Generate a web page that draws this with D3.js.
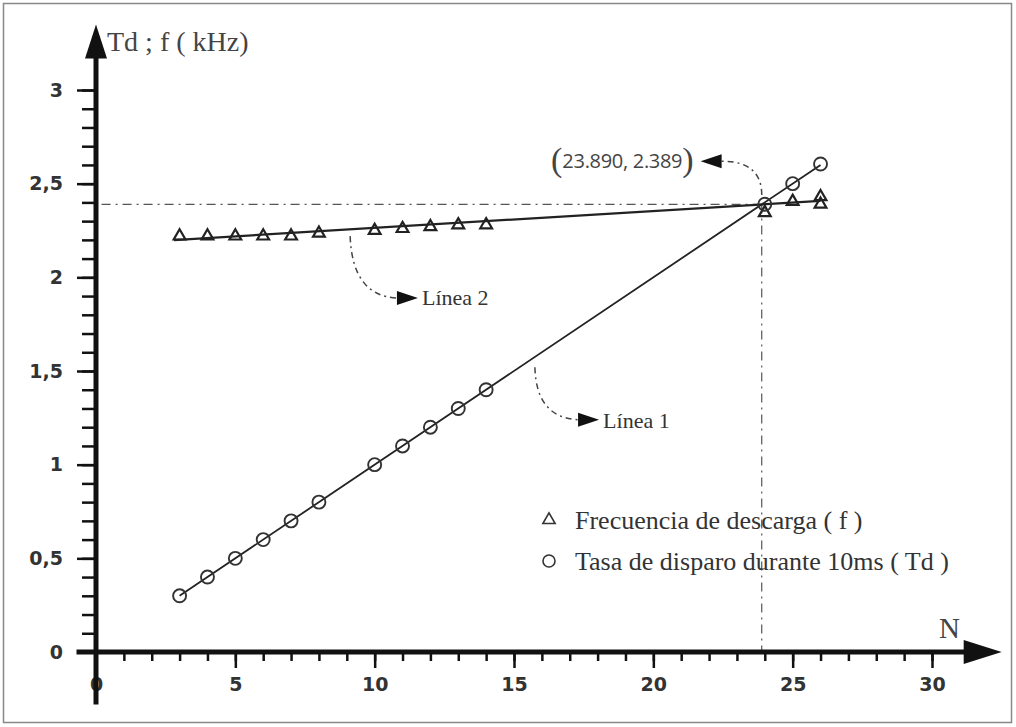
<!DOCTYPE html>
<html><head><meta charset="utf-8">
<script src="https://cdn.jsdelivr.net/npm/d3@7"></script>
<style>body{margin:0;background:#fff}svg{display:block}</style>
</head><body>
<svg id="c" width="1016" height="727"></svg>
<script>
// ---- data ----
const triN   = [3,4,5,6,7,8,10,11,12,13,14,24,25,26,26];
const triVal = [2.22,2.22,2.22,2.22,2.22,2.235,2.25,2.26,2.27,2.28,2.28,2.345,2.405,2.43,2.39];
const circN   = [3,4,5,6,7,8,10,11,12,13,14,24,25,26];
const circVal = [0.3,0.4,0.5,0.6,0.7,0.8,1.0,1.1,1.2,1.3,1.4,2.39,2.5,2.605];
const line1N = [3,26], line1Val = [0.3,2.6];
const line2N = [2.8,26], line2Val = [2.199,2.408];
const crossN = 23.89, crossVal = 2.389;
const xTicks = [0,5,10,15,20,25,30];
const xTickLabels = ["0","5","10","15","20","25","30"];
const yTicks = [0,0.5,1,1.5,2,2.5,3];
const yTickLabels = ["0","0,5","1","1,5","2","2,5","3"];
const xMinor = d3.range(0,31,1);
const yMinor = d3.range(0,31,1).map(d=>d/10);
const legendLabels = ["Frecuencia de descarga ( f )","Tasa de disparo durante 10ms ( Td )"];
const crossLabel = "23.890, 2.389";
const line1Label = "Línea 1", line2Label = "Línea 2";

// ---- scales ----
const x = d3.scaleLinear().domain([0,30]).range([96,932]);
const y = d3.scaleLinear().domain([0,3]).range([652,90]);
const svg = d3.select("#c");
const ink = "#111", grey="#444";
const serif = "'Liberation Serif',serif";

// frame
svg.append("rect").attr("x",3.5).attr("y",3.5).attr("width",1008).attr("height",719)
  .attr("fill","none").attr("stroke","#888").attr("stroke-width",1.5);

// reference dash-dot lines
const dd = "9,5,2,5";
svg.append("line").attr("x1",x(0.2)).attr("x2",x(crossN)).attr("y1",y(crossVal)).attr("y2",y(crossVal))
  .attr("stroke","#555").attr("stroke-width",1.2).attr("stroke-dasharray",dd);
svg.append("line").attr("x1",x(crossN)).attr("x2",x(crossN)).attr("y1",y(crossVal)).attr("y2",y(0))
  .attr("stroke","#555").attr("stroke-width",1.2).attr("stroke-dasharray",dd);

// axes: minor + major ticks via d3 axes
const gy = svg.append("g").attr("transform",`translate(${x(0)},0)`);
gy.call(d3.axisLeft(y).tickValues(yMinor).tickSize(14).tickFormat(""))
  .call(g=>{g.select(".domain").remove();g.selectAll("line").attr("stroke",ink).attr("stroke-width",2.5);});
const gy2 = svg.append("g").attr("transform",`translate(${x(0)},0)`);
gy2.call(d3.axisLeft(y).tickValues(yTicks).tickSize(19).tickPadding(14).tickFormat((d,i)=>yTickLabels[i]))
  .call(g=>{g.select(".domain").remove();g.selectAll("line").attr("stroke",ink).attr("stroke-width",2.5);
    g.selectAll("text").attr("fill","#333").attr("font-family","'DejaVu Sans',sans-serif")
     .attr("font-weight","bold").attr("font-size",19);});

const gx = svg.append("g").attr("transform",`translate(0,${y(0)})`);
gx.call(d3.axisBottom(x).tickValues(xMinor).tickSize(9).tickFormat(""))
  .call(g=>{g.select(".domain").remove();g.selectAll("line").attr("stroke",ink).attr("stroke-width",2.5);});
const gx2 = svg.append("g").attr("transform",`translate(0,${y(0)})`);
gx2.call(d3.axisBottom(x).tickValues(xTicks).tickSize(16).tickPadding(10).tickFormat((d,i)=>xTickLabels[i]))
  .call(g=>{g.select(".domain").remove();g.selectAll("line").attr("stroke",ink).attr("stroke-width",2.5);
    g.selectAll("text").attr("fill","#333").attr("font-family","'DejaVu Sans',sans-serif")
     .attr("font-weight","bold").attr("font-size",19);});

// axis lines + arrows
svg.append("line").attr("x1",x(0)).attr("x2",x(0)).attr("y1",y(-0.28)).attr("y2",y(3.2))
  .attr("stroke",ink).attr("stroke-width",5);
svg.append("line").attr("x1",x(-0.7)).attr("x2",x(31.5)).attr("y1",y(0)).attr("y2",y(0))
  .attr("stroke",ink).attr("stroke-width",5);
const yTop = y(3.35), xEnd = x(32.5);
svg.append("path").attr("d",`M${x(0)},${yTop} L${x(0)-11},${yTop+34} L${x(0)+11},${yTop+34} Z`).attr("fill",ink);
svg.append("path").attr("d",`M${xEnd},${y(0)} L${xEnd-38},${y(0)-12} L${xEnd-38},${y(0)+12} Z`).attr("fill",ink);

svg.append("text").attr("x",x(0)+11).attr("y",yTop+27).text("Td ; f ( kHz)")
  .attr("font-family",serif).attr("font-size",28).attr("fill",grey);
svg.append("text").attr("x",x(30.25)).attr("y",y(0)-14).text("N")
  .attr("font-family",serif).attr("font-size",29).attr("fill",grey);

// fitted lines
const lineGen = d3.line().x(d=>x(d[0])).y(d=>y(d[1]));
svg.append("path").attr("d",lineGen(d3.zip(line1N,line1Val))).attr("fill","none").attr("stroke","#222").attr("stroke-width",1.8);
svg.append("path").attr("d",lineGen(d3.zip(line2N,line2Val))).attr("fill","none").attr("stroke","#222").attr("stroke-width",2.2);

// markers
const tri = d3.symbol().type(d3.symbolTriangle).size(60);
svg.append("g").selectAll("path").data(d3.zip(triN,triVal)).join("path")
  .attr("d",tri).attr("transform",d=>`translate(${x(d[0])},${y(d[1])})`)
  .attr("fill","none").attr("stroke","#222").attr("stroke-width",2.2);
svg.append("g").selectAll("circle").data(d3.zip(circN,circVal)).join("circle")
  .attr("cx",d=>x(d[0])).attr("cy",d=>y(d[1])).attr("r",6.5)
  .attr("fill","none").attr("stroke","#333").attr("stroke-width",1.9);

// annotations (curved dash-dot leaders with arrowheads)
function leader(p0, p1, cpx, cpy, dir){
  const [x0,y0]=[x(p0[0]),y(p0[1])],[x1,y1]=[x(p1[0]),y(p1[1])];
  svg.append("path").attr("d",`M${x0},${y0} Q${x(cpx)},${y(cpy)} ${x1},${y1}`)
    .attr("fill","none").attr("stroke","#444").attr("stroke-width",1.5).attr("stroke-dasharray","6,4,2,4");
  const tipX = x1 + dir*21;
  svg.append("path").attr("d",`M${tipX},${y1} L${x1},${y1-7} L${x1},${y1+7} Z`).attr("fill",ink);
  return tipX;
}
let t2 = leader([9.12,2.22],[10.8,1.89],9.2,1.9,1);
svg.append("text").attr("x",t2+4).attr("y",y(1.89)+7).text(line2Label)
  .attr("font-family",serif).attr("font-size",22).attr("fill","#333");
let t1 = leader([15.75,1.52],[17.3,1.24],15.8,1.25,1);
svg.append("text").attr("x",t1+4).attr("y",y(1.24)+8).text(line1Label)
  .attr("font-family",serif).attr("font-size",22).attr("fill","#333");
let t3 = leader([crossN,2.44],[22.45,2.62],crossN,2.62,-1);
const lbl = svg.append("text").attr("x",t3-7).attr("y",y(2.62)+10).attr("text-anchor","end")
  .attr("fill","#444");
lbl.append("tspan").text("(").attr("font-family",serif).attr("font-size",34);
lbl.append("tspan").text(crossLabel).attr("font-family","'Open Sans',sans-serif").attr("font-size",20).attr("letter-spacing",-0.3).attr("dy",-3);
lbl.append("tspan").text(")").attr("font-family",serif).attr("font-size",34).attr("dy",3);

// legend
const lg = svg.append("g").attr("transform","translate(549,520)");
const items = lg.selectAll("g").data(legendLabels).join("g").attr("transform",(d,i)=>`translate(0,${i*41})`);
items.append("text").attr("x",26).attr("y",9).text(d=>d)
  .attr("font-family",serif).attr("font-size",26).attr("fill","#333");
items.filter((d,i)=>i===0).append("path").attr("d",d3.symbol().type(d3.symbolTriangle).size(65))
  .attr("fill","none").attr("stroke","#333").attr("stroke-width",1.6);
items.filter((d,i)=>i===1).append("circle").attr("r",6).attr("fill","none").attr("stroke","#333").attr("stroke-width",1.6);
</script>
</body></html>
